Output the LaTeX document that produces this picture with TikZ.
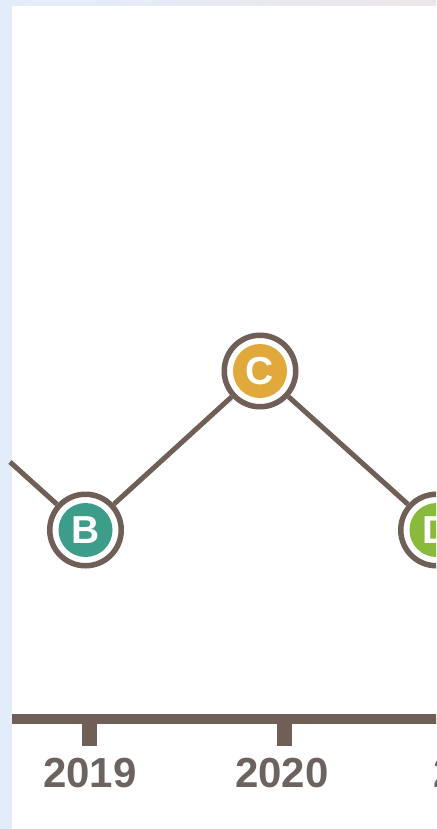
\documentclass[tikz,border=0pt]{standalone}
\usepackage{fontspec}
\setmainfont{Liberation Sans}
\definecolor{brn}{HTML}{6F5F57}
\definecolor{lbl}{HTML}{6C625E}
\definecolor{tealc}{HTML}{3C9D8B}
\definecolor{orc}{HTML}{E1A93C}
\definecolor{grc}{HTML}{8ABA3C}
\definecolor{sideblue}{HTML}{E3EDFA}
\definecolor{topright}{HTML}{ECE6EA}
\tikzset{
  ring/.style={circle, draw=brn, line width=5.5pt, fill=white, minimum size=71.5pt, inner sep=0pt},
  dot/.style={circle, minimum size=54pt, inner sep=0pt, text=white, font=\fontsize{39}{39}\selectfont\bfseries},
  conn/.style={draw=brn, line width=5pt},
  yearlbl/.style={text=lbl, font=\fontsize{42}{42}\selectfont\bfseries, inner sep=0pt},
  axisbar/.style={draw=brn, line width=10pt},
  tick/.style={draw=brn, line width=15pt}
}
\begin{document}
\begin{tikzpicture}[x=1pt,y=1pt]
\useasboundingbox (0,0) rectangle (436,-829);
\clip (0,0) rectangle (436,-829);
% background
\fill[sideblue] (0,0) rectangle (436,-829);
\shade[left color=sideblue, right color=topright] (0,0) rectangle (436,-6);
\fill[white] (12,-6) rectangle (436,-829);
% nodes
\node[ring] (B) at (85.5,-530) {};
\node[dot, fill=tealc] (Bi) at (B) {B};
\node[ring] (C) at (260,-371) {};
\node[dot, fill=orc] (Ci) at (C) {C};
\node[ring] (D) at (436.5,-530) {};
\node[dot, fill=grc] (Di) at (D) {D};
\coordinate (L) at (10,-462);
% connectors
\draw[conn] (L) -- (B);
\draw[conn] (B) -- (C);
\draw[conn] (C) -- (D);
% axis
\coordinate (A0) at (12,-719);
\coordinate (A1) at (440,-719);
\draw[axisbar] (A0) -- (A1);
\coordinate (T1) at (89.5,-716);
\coordinate (T1b) at (89.5,-746);
\coordinate (T2) at (284.5,-716);
\coordinate (T2b) at (284.5,-746);
\draw[tick] (T1) -- (T1b);
\draw[tick] (T2) -- (T2b);
\node[yearlbl] (Y1) at (90,-773) {2019};
\node[yearlbl] (Y2) at (282,-773) {2020};
\node[yearlbl] (Y3) at (480,-773) {2021};
\end{tikzpicture}
\end{document}
